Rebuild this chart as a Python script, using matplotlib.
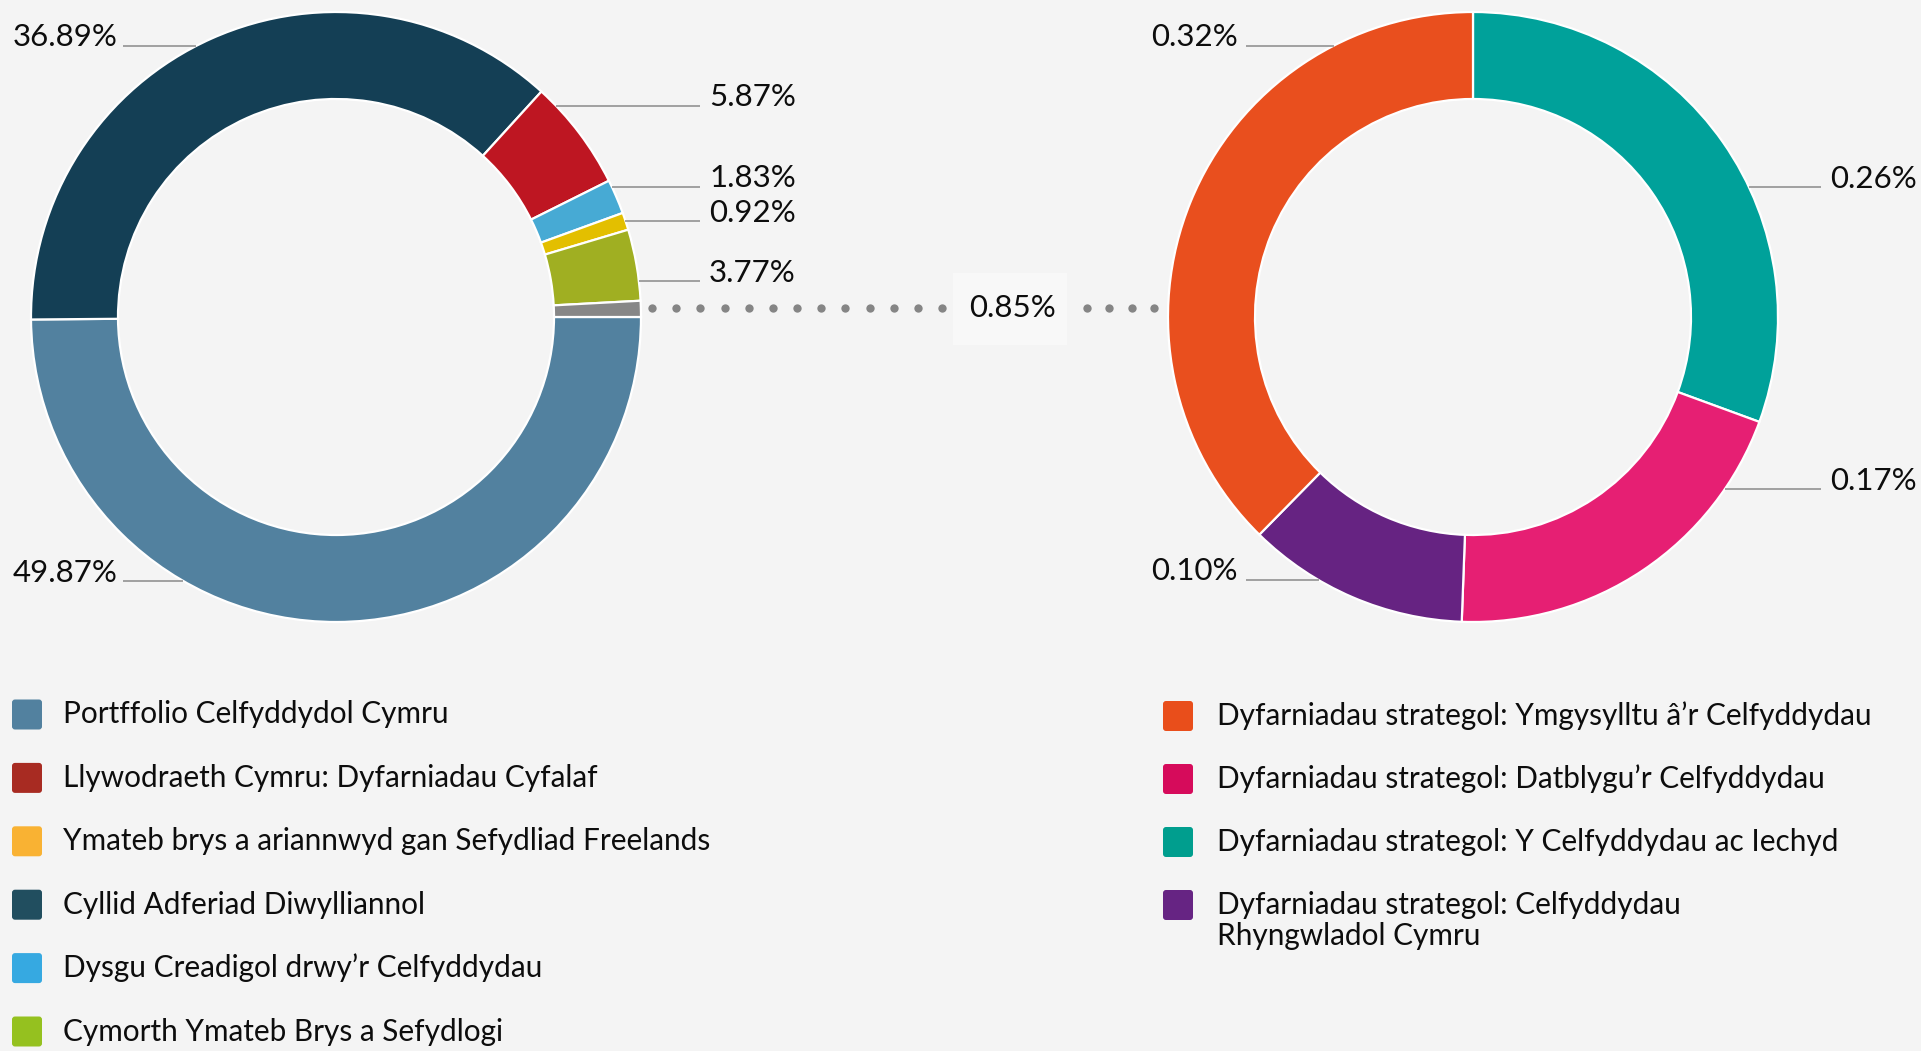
import numpy as np
import matplotlib
matplotlib.use("Agg")
import matplotlib.pyplot as plt
from matplotlib.patches import FancyBboxPatch, Rectangle

# ---------------- data ----------------
left_segments = [
    "Portffolio Celfyddydol Cymru",
    "Cyllid Adferiad Diwylliannol",
    "Llywodraeth Cymru: Dyfarniadau Cyfalaf",
    "Dysgu Creadigol drwy’r Celfyddydau",
    "Ymateb brys a ariannwyd gan Sefydliad Freelands",
    "Cymorth Ymateb Brys a Sefydlogi",
    "Dyfarniadau strategol",
]
left_values = [49.87, 36.89, 5.87, 1.83, 0.92, 3.77, 0.85]

right_segments = [
    "Dyfarniadau strategol: Y Celfyddydau ac Iechyd",
    "Dyfarniadau strategol: Datblygu’r Celfyddydau",
    "Dyfarniadau strategol: Celfyddydau Rhyngwladol Cymru",
    "Dyfarniadau strategol: Ymgysylltu â’r Celfyddydau",
]
right_values = [0.26, 0.17, 0.10, 0.32]

legend_left = [
    "Portffolio Celfyddydol Cymru",
    "Llywodraeth Cymru: Dyfarniadau Cyfalaf",
    "Ymateb brys a ariannwyd gan Sefydliad Freelands",
    "Cyllid Adferiad Diwylliannol",
    "Dysgu Creadigol drwy’r Celfyddydau",
    "Cymorth Ymateb Brys a Sefydlogi",
]
legend_right = [
    "Dyfarniadau strategol: Ymgysylltu â’r Celfyddydau",
    "Dyfarniadau strategol: Datblygu’r Celfyddydau",
    "Dyfarniadau strategol: Y Celfyddydau ac Iechyd",
    "Dyfarniadau strategol: Celfyddydau\nRhyngwladol Cymru",
]

# ---------------- styles ----------------
left_colors = ["#52819F", "#143F55", "#BE1622", "#47AAD4", "#E3BF00", "#A0AF22", "#878787"]
right_colors = ["#00A19A", "#E61F73", "#662382", "#E94F1E"]
legend_left_colors = ["#52819F", "#A82B22", "#F9B233", "#214E5F", "#36A9E1", "#95C11F"]
legend_right_colors = ["#E94E1B", "#D60B5B", "#009E8E", "#662483"]

BG = "#F4F4F4"
W, H = 1921, 1051
FONT = ["Lato", "DejaVu Sans"]
plt.rcParams["font.family"] = FONT

fig = plt.figure(figsize=(W / 100, H / 100), dpi=100, facecolor=BG)
ax = fig.add_axes([0, 0, 1, 1])
ax.set_facecolor(BG)

def Y(py):
    return H - py

R_OUT, WIDTH = 305, 87
LC = (336, 317)
RC = (1473, 317)

ax.pie(left_values, colors=left_colors, startangle=0, counterclock=False,
       radius=R_OUT, center=(LC[0], Y(LC[1])),
       wedgeprops=dict(width=WIDTH, edgecolor="white", linewidth=1.6))
ax.pie(right_values, colors=right_colors, startangle=90, counterclock=False,
       radius=R_OUT, center=(RC[0], Y(RC[1])),
       wedgeprops=dict(width=WIDTH, edgecolor="white", linewidth=1.6))

ax.set_xlim(0, W)
ax.set_ylim(0, H)
ax.set_aspect("equal")
ax.axis("off")

LINE_C = "#8A8A8A"
LBL_FS = 22.5
TXT_C = "#0d0d0d"

# label layout: (side, y of leader line in px)
left_layout = [("L", 581), ("L", 46), ("R", 105.5), ("R", 186.7), ("R", 221), ("R", 281.3), None]
right_layout = [("R", 187), ("R", 489), ("L", 580), ("L", 45.5)]

def draw_labels(values, layout, center, left_text_x, left_line_x, right_line_x, right_text_x):
    cx, cy = center
    for v, lay in zip(values, layout):
        if lay is None:
            continue
        side, ly = lay
        dy = ly - cy
        dx = np.sqrt(max(R_OUT ** 2 - dy ** 2, 0))
        txt = f"{v:.2f}%"
        if side == "L":
            ex = cx - dx
            ax.plot([left_line_x, ex], [Y(ly), Y(ly)], color=LINE_C, lw=1.1, solid_capstyle="butt")
            ax.text(left_text_x, Y(ly + 0.5), txt, fontsize=LBL_FS, color=TXT_C,
                    ha="left", va="baseline")
        else:
            ex = cx + dx
            ax.plot([ex, right_line_x], [Y(ly), Y(ly)], color=LINE_C, lw=1.1, solid_capstyle="butt")
            ax.text(right_text_x, Y(ly + 0.5), txt, fontsize=LBL_FS, color=TXT_C,
                    ha="left", va="baseline")

draw_labels(left_values, left_layout, LC, 13, 123, 700, 709)
draw_labels(right_values, right_layout, RC, 1151, 1246, 1821, 1830)

# connector for the strategic share
ax.scatter(np.linspace(652, 942, 13), [Y(308)] * 13, s=36, color="#858585", linewidths=0, zorder=3)
ax.scatter(np.linspace(1087, 1154, 4), [Y(308)] * 4, s=36, color="#858585", linewidths=0, zorder=3)
ax.add_patch(Rectangle((953, Y(345)), 114, 72, facecolor="#F8F8F8", edgecolor="none", zorder=2))
ax.text(1012, Y(317), f"{left_values[-1]:.2f}%", fontsize=LBL_FS, color=TXT_C,
        ha="center", va="baseline", zorder=4)

# ---------------- legends ----------------
LEG_FS = 21.4
SW = 30

def draw_legend(items, colors, sw_x, text_x, y0, step):
    for i, (lab, col) in enumerate(zip(items, colors)):
        cyp = y0 + i * step
        ax.add_patch(FancyBboxPatch((sw_x + 3, Y(cyp + SW / 2) + 3), SW - 6, SW - 6,
                                    boxstyle="round,pad=3", facecolor=col, edgecolor="none"))
        lines = lab.split("\n")
        for j, ln in enumerate(lines):
            ax.text(text_x, Y(cyp + 9 + j * 31), ln, fontsize=LEG_FS, color=TXT_C,
                    ha="left", va="baseline")

draw_legend(legend_left, legend_left_colors, 12, 63, 714.5, 63.4)
draw_legend(legend_right, legend_right_colors, 1163, 1217, 716, 63.0)

fig.savefig("out.png", dpi=100, facecolor=BG)
